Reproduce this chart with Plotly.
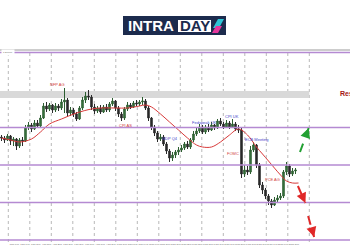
import plotly.graph_objects as go

# ---------------- data ----------------
first_open = 1.2731
closes = [1.2729, 1.2725, 1.2733, 1.2723, 1.2727, 1.2713, 1.2725, 1.2723, 1.2749, 1.2755,
          1.2747, 1.2759, 1.2753, 1.2769, 1.2793, 1.2787, 1.2795, 1.2785, 1.2793, 1.2789,
          1.2801, 1.2805, 1.2779, 1.2785, 1.2777, 1.2767, 1.2789, 1.2805, 1.2813, 1.2811,
          1.2791, 1.2783, 1.2789, 1.2781, 1.2791, 1.2785, 1.2797, 1.2803, 1.2789, 1.2777,
          1.2769, 1.2787, 1.2795, 1.2791, 1.2799, 1.2797, 1.2801, 1.2803, 1.2789, 1.2769,
          1.2751, 1.2739, 1.2727, 1.2731, 1.2717, 1.2703, 1.2689, 1.2695, 1.2701, 1.2705,
          1.2709, 1.2717, 1.2711, 1.2725, 1.2737, 1.2743, 1.2751, 1.2741, 1.2751, 1.2745,
          1.2755, 1.2749, 1.2763, 1.2757, 1.2751, 1.2759, 1.2751, 1.2757, 1.2747, 1.2745,
          1.2657, 1.2665, 1.2661, 1.2705, 1.2715, 1.2675, 1.2635, 1.2625, 1.2613, 1.2603,
          1.2595, 1.2605, 1.2609, 1.2613, 1.2661, 1.2673, 1.2657, 1.2663, 1.2665]
highs = [1.2735, 1.2733, 1.2737, 1.2735, 1.2731, 1.2729, 1.2729, 1.2731, 1.2755, 1.2761,
         1.2759, 1.2765, 1.2765, 1.2775, 1.2799, 1.2801, 1.2799, 1.2797, 1.2799, 1.2797,
         1.2807, 1.2829, 1.2809, 1.2791, 1.2789, 1.2781, 1.2793, 1.2811, 1.2821, 1.2825,
         1.2815, 1.2797, 1.2793, 1.2795, 1.2795, 1.2797, 1.2801, 1.2809, 1.2805, 1.2793,
         1.2781, 1.2791, 1.2801, 1.2799, 1.2803, 1.2805, 1.2805, 1.2811, 1.2807, 1.2793,
         1.2771, 1.2755, 1.2743, 1.2737, 1.2735, 1.2721, 1.2707, 1.2701, 1.2705, 1.2711,
         1.2715, 1.2721, 1.2723, 1.2729, 1.2743, 1.2749, 1.2757, 1.2755, 1.2755, 1.2757,
         1.2761, 1.2757, 1.2767, 1.2769, 1.2761, 1.2765, 1.2763, 1.2767, 1.2761, 1.2755,
         1.2749, 1.2675, 1.2673, 1.2713, 1.2721, 1.2717, 1.2679, 1.2641, 1.2629, 1.2617,
         1.2607, 1.2611, 1.2615, 1.2619, 1.2665, 1.2681, 1.2677, 1.2669, 1.2669]
lows = [1.2723, 1.2719, 1.2723, 1.2715, 1.2713, 1.2705, 1.2709, 1.2713, 1.2721, 1.2745,
        1.2741, 1.2745, 1.2749, 1.2751, 1.2767, 1.2781, 1.2783, 1.2779, 1.2781, 1.2783,
        1.2785, 1.2779, 1.2773, 1.2773, 1.2771, 1.2763, 1.2765, 1.2785, 1.2799, 1.2805,
        1.2785, 1.2777, 1.2779, 1.2777, 1.2779, 1.2781, 1.2781, 1.2793, 1.2783, 1.2771,
        1.2763, 1.2765, 1.2783, 1.2787, 1.2789, 1.2793, 1.2793, 1.2795, 1.2785, 1.2763,
        1.2745, 1.2733, 1.2721, 1.2723, 1.2713, 1.2697, 1.2681, 1.2683, 1.2689, 1.2695,
        1.2701, 1.2705, 1.2707, 1.2707, 1.2721, 1.2733, 1.2739, 1.2737, 1.2737, 1.2741,
        1.2743, 1.2745, 1.2747, 1.2753, 1.2747, 1.2749, 1.2747, 1.2749, 1.2743, 1.2739,
        1.2649, 1.2651, 1.2655, 1.2657, 1.2701, 1.2669, 1.2629, 1.2617, 1.2607, 1.2595,
        1.2589, 1.2593, 1.2601, 1.2605, 1.2609, 1.2655, 1.2651, 1.2653, 1.2657]
opens = [first_open] + closes[:-1]
candle_idx = list(range(len(closes)))

ma_idx = [0, 3, 6, 10, 13, 16, 20, 25, 30, 33, 38, 42, 46, 48, 50, 53, 56, 59, 62, 65,
          67, 70, 73, 76, 79, 82, 85, 87, 89, 93, 95, 97, 99]
ma_vals = [1.2729, 1.2725, 1.2721, 1.2727, 1.2741, 1.2757, 1.2767, 1.2779, 1.2787, 1.2789,
           1.2789, 1.2789, 1.2793, 1.2795, 1.2791, 1.2777, 1.2761, 1.2745, 1.2729, 1.2715,
           1.2711, 1.2711, 1.2721, 1.2735, 1.2747, 1.2735, 1.2711, 1.2697, 1.2683, 1.2655,
           1.2643, 1.2639, 1.2639]

levels = [1.2900, 1.2750, 1.2675, 1.2600, 1.2525]
zone_low, zone_high = 1.2809, 1.2823

event_labels = ["NFP AG", "CPI AS", "GDP Q4", "Fedspeak UK", "CPI UK", "ECB Meeting", "FOMC", "PCE AG"]
event_idx = [18.8, 41.2, 56.2, 67.5, 76.8, 85.2, 77.2, 90.2]
event_price = [1.2837, 1.2754, 1.2729, 1.2761, 1.2773, 1.2727, 1.2699, 1.2647]
event_colors = ["#d2413a", "#d2413a", "#3f3fc8", "#3f3fc8", "#3f3fc8", "#3f3fc8", "#d2413a", "#d2413a"]

date_labels = ["2 Dec 2024", "2 Dec 14:00", "3 Dec 04:00", "3 Dec 18:00", "4 Dec 08:00",
               "4 Dec 22:00", "5 Dec 12:00", "6 Dec 02:00", "6 Dec 16:00", "9 Dec 06:00",
               "9 Dec 20:00", "10 Dec 10:00", "11 Dec 00:00", "11 Dec 14:00", "12 Dec 04:00",
               "12 Dec 18:00", "13 Dec 08:00", "13 Dec 22:00", "16 Dec 12:00", "17 Dec 02:00",
               "17 Dec 16:00", "18 Dec 06:00", "18 Dec 20:00", "19 Dec 10:00", "20 Dec 00:00",
               "20 Dec 14:00", "23 Dec 04:00", "23 Dec 18:00"]

# ---------------- layout helpers ----------------
W, H = 350, 250
T, B = 50, 8
PH = H - T - B


def px(x):
    return x / W


def py(y):
    return (H - B - y) / PH


tick_pos = [0.7 + 3.5833 * k for k in range(len(date_labels))]
grid_pos = [2.267 + 7.1667 * k for k in range(15)]

fig = go.Figure()
fig.add_trace(go.Candlestick(
    x=candle_idx, open=opens, high=highs, low=lows, close=closes,
    increasing=dict(line=dict(color="#2c5e30", width=1), fillcolor="#3f7d44"),
    decreasing=dict(line=dict(color="#2a2a2a", width=1), fillcolor="#2a2a2a"),
    whiskerwidth=0, hoverinfo="skip"))
fig.add_trace(go.Scatter(x=ma_idx, y=ma_vals, mode="lines",
                         line=dict(color="#d83a3a", width=1, shape="spline"),
                         hoverinfo="skip"))

shapes = []
shapes.append(dict(type="rect", xref="x", yref="y", x0=-0.5, x1=102.6, y0=zone_low, y1=zone_high,
                   fillcolor="#d9d9d9", line=dict(width=0), layer="below"))
for g in grid_pos:
    shapes.append(dict(type="line", xref="x", yref="paper", x0=g, x1=g, y0=0, y1=1,
                       line=dict(color="#b8b8b8", width=1, dash="dot"), layer="below"))
shapes.append(dict(type="line", xref="paper", yref="paper", x0=0, x1=1, y0=1, y1=1,
                   line=dict(color="#9a9a9a", width=1)))
for lv in levels:
    shapes.append(dict(type="line", xref="paper", yref="y", x0=0, x1=1, y0=lv, y1=lv,
                       line=dict(color="#b58ad2", width=1.5)))
arrow_defs = [
    ((99.5, 1.2701), (102.4, 1.2749), "#22a032"),
    ((98.8, 1.2633), (101.3, 1.2599), "#e02828"),
    ((102.2, 1.2573), (104.2, 1.2531), "#e02828"),
]
for (x0, y0), (x1, y1), col in arrow_defs:
    shapes.append(dict(type="line", xref="x", yref="y", x0=x0, y0=y0, x1=x1, y1=y1,
                       line=dict(color=col, width=2, dash="dash")))

# logo
shapes.append(dict(type="rect", xref="paper", yref="paper", x0=px(123), x1=px(226),
                   y0=py(35), y1=py(16), fillcolor="#1c2b4d", line=dict(width=0)))
shapes.append(dict(type="rect", xref="paper", yref="paper", x0=px(178), x1=px(211),
                   y0=py(32), y1=py(20), fillcolor="#ffffff", line=dict(width=0)))


def poly(pts):
    return "M " + " L ".join(f"{px(a):.5f},{py(b):.5f}" for a, b in pts) + " Z"


shapes.append(dict(type="path", xref="paper", yref="paper",
                   path=poly([(213, 28), (218, 19), (224, 19), (219, 28)]),
                   fillcolor="#2ec4d6", line=dict(width=0)))
shapes.append(dict(type="path", xref="paper", yref="paper",
                   path=poly([(212, 33), (216, 26), (222, 26), (218, 33)]),
                   fillcolor="#e5369c", line=dict(width=0)))

annotations = []
for t, xi, yv, c in zip(event_labels, event_idx, event_price, event_colors):
    annotations.append(dict(x=xi, y=yv, xref="x", yref="y", text=t, showarrow=False,
                            font=dict(size=4, color=c, family="Liberation Sans")))
for (x0, y0), (x1, y1), col in arrow_defs:
    annotations.append(dict(x=x1, y=y1, ax=x0 + (x1 - x0) * 0.75, ay=y0 + (y1 - y0) * 0.75,
                            xref="x", yref="y", axref="x", ayref="y", text="",
                            showarrow=True, arrowhead=2, arrowsize=1, arrowwidth=2,
                            arrowcolor=col, standoff=0))
annotations.append(dict(x=112.2, y=1.2819, xref="x", yref="y", text="<b>Resistance</b>",
                        showarrow=False, xanchor="left",
                        font=dict(size=7, color="#a31515", family="Liberation Sans")))
annotations.append(dict(x=0.003, y=levels[0], xref="paper", yref="y", text="1.29000",
                        showarrow=False, xanchor="left", bgcolor="white",
                        font=dict(size=2.5, color="#666", family="Liberation Sans")))
annotations.append(dict(x=px(151), y=py(25.5), xref="paper", yref="paper", text="<b>INTRA</b>",
                        showarrow=False, xanchor="center", yanchor="middle",
                        font=dict(size=15, color="#ffffff", family="Liberation Sans")))
annotations.append(dict(x=px(194.5), y=py(25.5), xref="paper", yref="paper", text="<b>DAY</b>",
                        showarrow=False, xanchor="center", yanchor="middle",
                        font=dict(size=15, color="#1c2b4d", family="Liberation Sans")))

fig.update_layout(
    width=W, height=H, margin=dict(l=0, r=0, t=T, b=B),
    paper_bgcolor="white", plot_bgcolor="white", showlegend=False,
    shapes=shapes, annotations=annotations,
    xaxis=dict(range=[-0.5, 116.1667], rangeslider=dict(visible=False), showgrid=False,
               zeroline=False, tickmode="array", tickvals=tick_pos, ticktext=date_labels,
               tickfont=dict(size=1.7, color="#555", family="Liberation Sans"), ticks="",
               ticklabelstandoff=0, showline=False, tickangle=0),
    yaxis=dict(range=[1.2521, 1.2905], showgrid=False, showticklabels=False, zeroline=False),
)

fig.write_html("out.html")
